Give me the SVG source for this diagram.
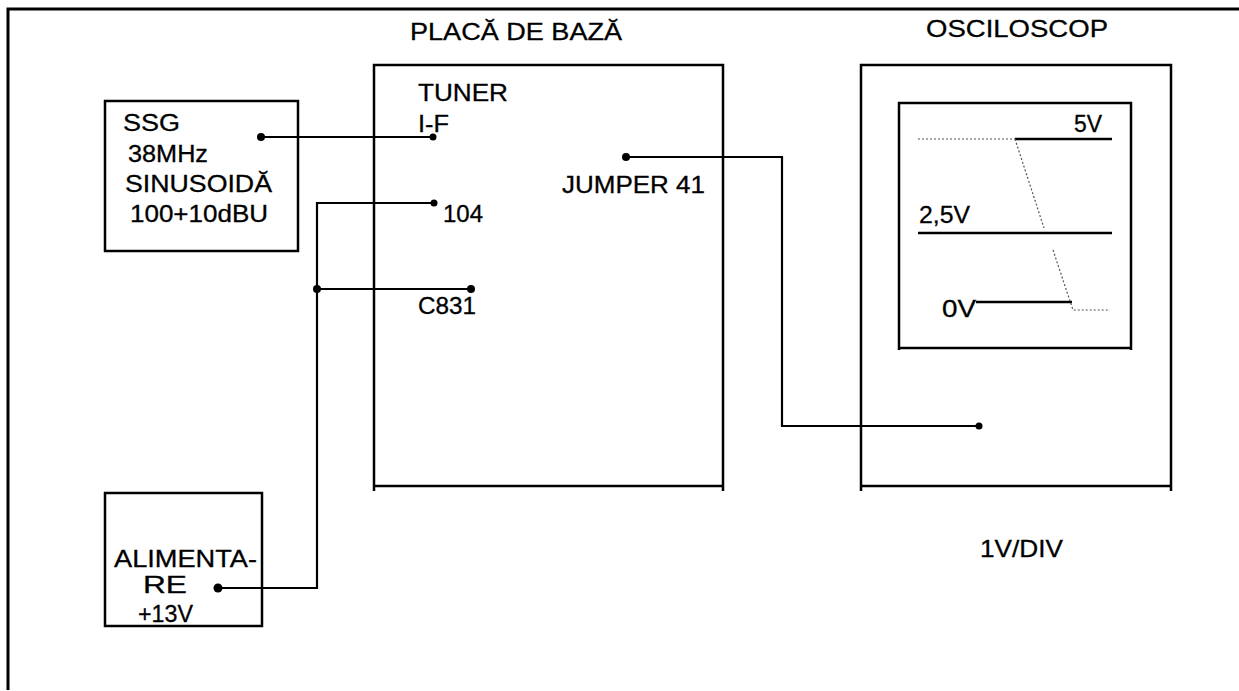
<svg xmlns="http://www.w3.org/2000/svg" width="1239" height="691" viewBox="0 0 1239 691">
<style>
text{font-family:"Liberation Sans",Arial,sans-serif;font-size:24px;fill:#000;stroke:#000;stroke-width:0.3}
.sm{font-size:23px}
.box{fill:none;stroke:#000;stroke-width:2.5}
.w{fill:none;stroke:#000;stroke-width:2.2}
.dot{fill:#000}
.dt{fill:none;stroke:#555;stroke-width:1.2;stroke-dasharray:2 2}
</style>
<rect width="1239" height="691" fill="#fff"/>
<path id="frame" d="M8,690 V9 H1239" fill="none" stroke="#000" stroke-width="3"/>
<g id="ssg">
<rect class="box" x="105" y="101" width="193" height="150"/>
<text class="sm" x="123" y="131" textLength="57" lengthAdjust="spacingAndGlyphs">SSG</text>
<text class="sm" x="128" y="162" textLength="80" lengthAdjust="spacingAndGlyphs">38MHz</text>
<text class="sm" x="125" y="192" textLength="147" lengthAdjust="spacingAndGlyphs">SINUSOIDĂ</text>
<text class="sm" x="130" y="222" textLength="138" lengthAdjust="spacingAndGlyphs">100+10dBU</text>
</g>
<g id="alimentare">
<rect class="box" x="105" y="493" width="157" height="133"/>
<text x="114" y="567" textLength="143" lengthAdjust="spacingAndGlyphs">ALIMENTA-</text>
<text x="143" y="593" textLength="44" lengthAdjust="spacingAndGlyphs">RE</text>
<text x="138" y="622" textLength="55" lengthAdjust="spacingAndGlyphs">+13V</text>
</g>
<g id="placa">
<text x="410" y="40" textLength="212" lengthAdjust="spacingAndGlyphs">PLACĂ DE BAZĂ</text>
<path class="box" d="M374,491 V65 H723 V491 M374,486 H723"/>
<text x="418" y="101" textLength="90" lengthAdjust="spacingAndGlyphs">TUNER</text>
<text x="418" y="132" textLength="31" lengthAdjust="spacingAndGlyphs">I-F</text>
<text x="443" y="222" textLength="40" lengthAdjust="spacingAndGlyphs">104</text>
<text x="418" y="314" textLength="58" lengthAdjust="spacingAndGlyphs">C831</text>
<text x="562" y="193" textLength="143" lengthAdjust="spacingAndGlyphs">JUMPER 41</text>
</g>
<g id="osciloscop">
<text x="926" y="37" textLength="182" lengthAdjust="spacingAndGlyphs">OSCILOSCOP</text>
<path class="box" d="M861,491 V65 H1171 V491 M861,486 H1171"/>
<path class="box" d="M899,350 V103 H1131 V350 M899,348 H1131"/>
<text x="1074" y="132" textLength="28" lengthAdjust="spacingAndGlyphs">5V</text>
<text x="919" y="223" textLength="51" lengthAdjust="spacingAndGlyphs">2,5V</text>
<text x="942" y="317" textLength="34" lengthAdjust="spacingAndGlyphs">0V</text>
<path class="dt" d="M918,139 H1015"/>
<path d="M1015,139 H1112 M918,233 H1112 M976,302 H1072" fill="none" stroke="#000" stroke-width="2.5"/>
<path class="dt" d="M1015,139 L1044,228 M1053,250 L1073,310 H1110"/>
<text x="980" y="557" textLength="83" lengthAdjust="spacingAndGlyphs">1V/DIV</text>
</g>
<g id="connectors">
<path class="w" d="M261,137 H433"/>
<path class="w" d="M218,588 H317 V203 H434"/>
<path class="w" d="M317,289 H471"/>
<path class="w" d="M626,157 H782 V426 H979"/>
<circle class="dot" cx="261" cy="137" r="4"/>
<circle class="dot" cx="433" cy="137" r="3.5"/>
<circle class="dot" cx="434" cy="203" r="3.5"/>
<circle class="dot" cx="317" cy="289" r="4"/>
<circle class="dot" cx="471" cy="289" r="4"/>
<circle class="dot" cx="626" cy="157" r="4"/>
<circle class="dot" cx="979" cy="426" r="3.5"/>
<circle class="dot" cx="218" cy="588" r="4.5"/>
</g>
</svg>
